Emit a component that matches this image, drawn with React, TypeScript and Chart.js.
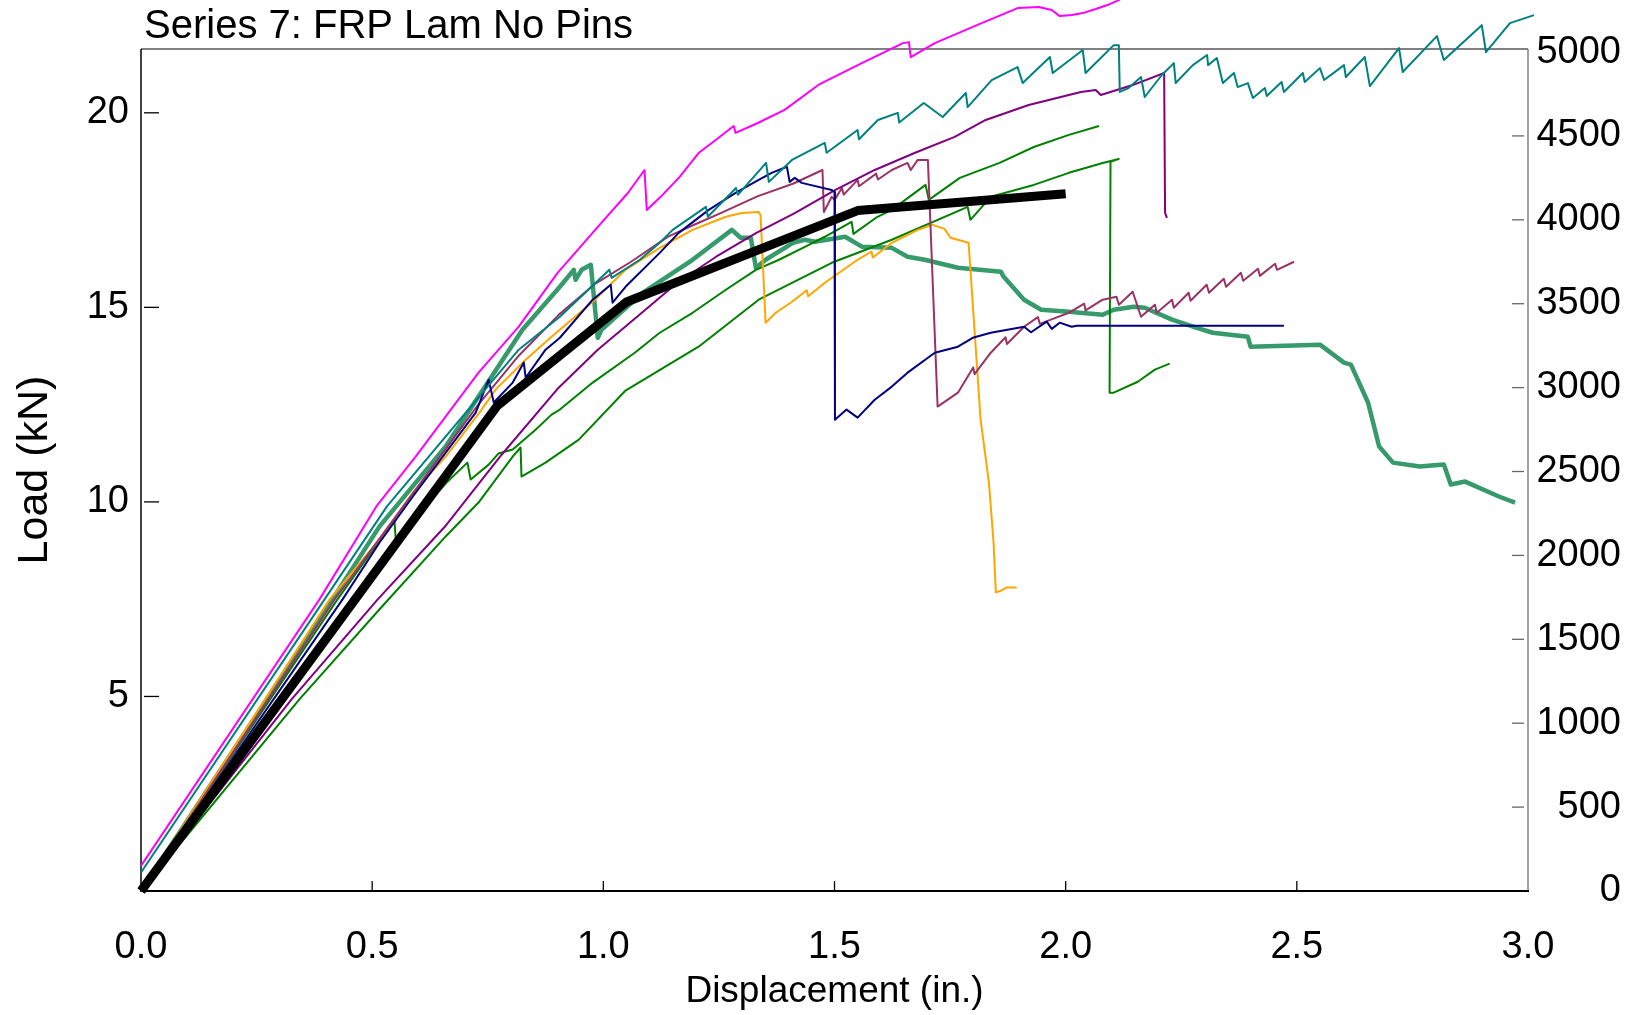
import React, { useEffect, useRef } from 'react';
import { Chart, registerables } from 'chart.js';

Chart.register(...registerables);

const FONT = "'Liberation Sans', Arial, Helvetica, sans-serif";

const chartTitle = 'Series 7: FRP Lam No Pins';
const xAxisTitle = 'Displacement (in.)';
const yAxisTitle = 'Load (kN)';
const kNTicks = [5, 10, 15, 20];
const lbfTicks = [0, 500, 1000, 1500, 2000, 2500, 3000, 3500, 4000, 4500, 5000];
const dispTicks = [0, 0.5, 1.0, 1.5, 2.0, 2.5, 3.0];

// [displacement (in.), load (lbf)]
const averagePts = [[0, 0], [0.77, 2890], [1.05, 3510], [1.55, 4055], [2.0, 4155]];

const magentaPts = [
  [0, 150], [0.386, 1738], [0.509, 2292], [0.594, 2589], [0.730, 3089], [0.817, 3363], [0.901, 3684],
  [0.988, 3958], [1.053, 4160], [1.089, 4297], [1.094, 4059], [1.124, 4137], [1.165, 4256], [1.206, 4398],
  [1.243, 4476], [1.282, 4559], [1.286, 4518], [1.334, 4577], [1.392, 4655], [1.468, 4809], [1.559, 4934],
  [1.648, 5053], [1.661, 5059], [1.665, 4970], [1.717, 5053], [1.808, 5160], [1.896, 5262], [1.942, 5268],
  [1.970, 5250], [1.987, 5214], [2.013, 5220], [2.037, 5232], [2.065, 5256], [2.095, 5285], [2.115, 5309],
  [2.14, 5400],
];

const tealPts = [
  [0, 110], [0.397, 1738], [0.532, 2292], [0.817, 3226], [0.906, 3422], [1.013, 3702], [1.018, 3654],
  [1.079, 3762], [1.122, 3863], [1.150, 3940], [1.222, 4077], [1.226, 4018], [1.287, 4190], [1.291, 4149],
  [1.352, 4339], [1.358, 4226], [1.408, 4357], [1.479, 4458], [1.483, 4400], [1.550, 4535], [1.553, 4480],
  [1.594, 4595], [1.637, 4637], [1.640, 4580], [1.693, 4696], [1.734, 4613], [1.784, 4756], [1.788, 4672],
  [1.840, 4833], [1.896, 4910], [1.907, 4815], [1.966, 4970], [1.972, 4875], [2.037, 5012], [2.043, 4875],
  [2.104, 5041], [2.115, 5041], [2.117, 4762], [2.136, 4785], [2.163, 4851], [2.171, 4732], [2.208, 4863],
  [2.234, 4934], [2.238, 4815], [2.275, 4922], [2.306, 4982], [2.308, 4922], [2.327, 4964], [2.340, 4815],
  [2.364, 4875], [2.372, 4791], [2.394, 4815], [2.405, 4726], [2.431, 4785], [2.435, 4738], [2.467, 4821],
  [2.472, 4762], [2.513, 4875], [2.517, 4821], [2.550, 4904], [2.559, 4833], [2.602, 4922], [2.606, 4851],
  [2.647, 4970], [2.658, 4797], [2.721, 5023], [2.729, 4881], [2.803, 5095], [2.818, 4952], [2.900, 5160],
  [2.909, 5000], [2.961, 5172], [3.013, 5220], [3.019, 5220], [3.024, 5143],
];

const navyPts = [
  [0, 0], [0.436, 1738], [0.516, 2077], [0.588, 2351], [0.659, 2613], [0.724, 2851], [0.752, 3047],
  [0.763, 2911], [0.804, 3030], [0.828, 3149], [0.832, 3059], [0.875, 3226], [0.906, 3297], [0.977, 3524],
  [1.016, 3613], [1.020, 3506], [1.048, 3601], [1.122, 3803], [1.163, 3922], [1.228, 4059], [1.286, 4161],
  [1.336, 4238], [1.364, 4280], [1.397, 4316], [1.403, 4226], [1.414, 4250], [1.429, 4220], [1.494, 4178],
  [1.500, 4166], [1.501, 2809], [1.526, 2869], [1.550, 2821], [1.587, 2928], [1.624, 3006], [1.658, 3089],
  [1.717, 3208], [1.767, 3244], [1.799, 3297], [1.838, 3327], [1.910, 3363], [1.925, 3330], [1.959, 3393],
  [1.970, 3350], [1.987, 3387], [2.013, 3363], [2.024, 3369], [2.472, 3369],
];

const purplePts = [
  [0, 0], [0.326, 1143], [0.512, 1738], [0.66, 2180], [0.78, 2600], [0.90, 2990], [0.988, 3226],
  [1.073, 3422], [1.160, 3625], [1.244, 3780], [1.331, 3922], [1.415, 4041], [1.502, 4178], [1.587, 4297],
  [1.673, 4398], [1.760, 4494], [1.827, 4595], [1.920, 4684], [2.033, 4762], [2.065, 4774], [2.076, 4744],
  [2.145, 4803], [2.213, 4875], [2.215, 4041], [2.219, 4012],
];

const maroonPts = [
  [0, 0], [0.419, 1738], [0.730, 2900], [0.817, 3190], [0.904, 3435], [0.983, 3620], [1.06, 3750],
  [1.14, 3900], [1.20, 3975], [1.254, 4040], [1.333, 4140], [1.41, 4215], [1.474, 4297], [1.477, 4047],
  [1.494, 4137], [1.500, 4119], [1.516, 4190], [1.520, 4150], [1.550, 4238], [1.553, 4200], [1.590, 4275],
  [1.594, 4240], [1.624, 4297], [1.658, 4339], [1.665, 4297], [1.680, 4357], [1.702, 4357], [1.723, 2887],
  [1.767, 2970], [1.80, 3120], [1.803, 3080], [1.838, 3208], [1.87, 3300], [1.873, 3260], [1.910, 3363],
  [1.94, 3420], [1.944, 3380], [1.968, 3405], [2.007, 3446], [2.04, 3500], [2.043, 3460], [2.080, 3524],
  [2.110, 3541], [2.115, 3494], [2.145, 3571], [2.163, 3422], [2.193, 3494], [2.197, 3446], [2.230, 3524],
  [2.234, 3476], [2.266, 3565], [2.270, 3518], [2.305, 3613], [2.310, 3565], [2.342, 3649], [2.347, 3601],
  [2.379, 3684], [2.384, 3637], [2.416, 3708], [2.420, 3666], [2.453, 3738], [2.457, 3702], [2.494, 3750],
];

const orangePts = [
  [0, 0], [0.408, 1738], [0.516, 2095], [0.588, 2375], [0.659, 2589], [0.732, 2851], [0.767, 2988],
  [0.832, 3166], [0.888, 3303], [0.977, 3512], [1.048, 3702], [1.122, 3833], [1.193, 3940], [1.265, 4018],
  [1.299, 4041], [1.336, 4047], [1.340, 4029], [1.351, 3387], [1.373, 3446], [1.408, 3512], [1.44, 3580],
  [1.443, 3545], [1.479, 3625], [1.550, 3762], [1.58, 3810], [1.583, 3775], [1.624, 3863], [1.680, 3940],
  [1.712, 3970], [1.738, 3946], [1.751, 3893], [1.790, 3863], [1.816, 2809], [1.834, 2434], [1.844, 2077],
  [1.849, 1780], [1.857, 1786], [1.873, 1809], [1.894, 1809],
];

const greenUpperPts = [
  [0, 0], [0.425, 1738], [0.548, 2214], [0.551, 2095], [0.661, 2434], [0.706, 2553], [0.713, 2452],
  [0.752, 2541], [0.773, 2607], [0.804, 2631], [0.854, 2750], [0.888, 2839], [0.906, 2869], [0.977, 3030],
  [1.068, 3208], [1.122, 3327], [1.193, 3446], [1.265, 3583], [1.330, 3702], [1.380, 3762], [1.436, 3839],
  [1.479, 3899], [1.537, 3988], [1.541, 3916], [1.593, 4018], [1.624, 4059], [1.697, 4208], [1.704, 4119],
  [1.771, 4250], [1.857, 4339], [1.931, 4434], [2.007, 4506], [2.072, 4559],
];

const greenLowerPts = [
  [0, 0], [0.343, 1143], [0.516, 1679], [0.659, 2113], [0.730, 2315], [0.804, 2589], [0.821, 2643],
  [0.823, 2470], [0.875, 2553], [0.947, 2690], [1.047, 2980], [1.206, 3244], [1.336, 3524], [1.494, 3744],
  [1.624, 3881], [1.788, 4077], [1.794, 4000], [1.838, 4137], [1.931, 4208], [2.007, 4280], [2.080, 4339],
  [2.115, 4363], [2.097, 4345], [2.095, 2970], [2.104, 2970], [2.156, 3035], [2.193, 3107], [2.225, 3143],
];

const seaGreenPts = [
  [0, 0], [0.414, 1738], [0.516, 2173], [0.659, 2649], [0.825, 3345], [0.906, 3601], [0.936, 3702],
  [0.940, 3643], [0.953, 3702], [0.973, 3732], [0.988, 3297], [0.996, 3345], [1.085, 3565], [1.193, 3762],
  [1.278, 3940], [1.297, 3893], [1.319, 3893], [1.330, 3714], [1.351, 3762], [1.410, 3863], [1.436, 3881],
  [1.457, 3869], [1.523, 3899], [1.560, 3839], [1.624, 3833], [1.658, 3780], [1.695, 3762], [1.767, 3714],
  [1.860, 3690], [1.866, 3660], [1.910, 3524], [1.947, 3464], [2.007, 3452], [2.080, 3434], [2.104, 3464],
  [2.147, 3482], [2.171, 3476], [2.230, 3405], [2.282, 3357], [2.318, 3327], [2.394, 3303], [2.400, 3244],
  [2.550, 3256], [2.602, 3149], [2.617, 3137], [2.654, 2911], [2.678, 2649], [2.708, 2553], [2.766, 2530],
  [2.818, 2542], [2.833, 2423], [2.864, 2440], [2.937, 2351], [2.972, 2315],
];

const seriesList = [
  { label: 'Average', pts: averagePts, color: '#000000', width: 9 },
  { label: 'Specimen 1', pts: magentaPts, color: '#FF00FF', width: 2 },
  { label: 'Specimen 2', pts: tealPts, color: '#008080', width: 2 },
  { label: 'Specimen 3', pts: navyPts, color: '#000080', width: 2 },
  { label: 'Specimen 4', pts: purplePts, color: '#800080', width: 2 },
  { label: 'Specimen 5', pts: maroonPts, color: '#993366', width: 2 },
  { label: 'Specimen 6', pts: orangePts, color: '#FFA500', width: 2 },
  { label: 'Specimen 7', pts: greenUpperPts, color: '#008000', width: 2 },
  { label: 'Specimen 8', pts: greenLowerPts, color: '#008000', width: 2 },
  { label: 'Specimen 9', pts: seaGreenPts, color: '#369a6c', width: 4.5 },
];

const setTicks = (values: number[]) => (scale: any) => {
  scale.ticks = values.map((value) => ({ value }));
};

const framePlugin = {
  id: 'frame',
  beforeDatasetsDraw(chart: any) {
    const { ctx, chartArea: a, scales } = chart;
    const seg = (x1: number, y1: number, x2: number, y2: number) => {
      ctx.beginPath();
      ctx.moveTo(x1, y1);
      ctx.lineTo(x2, y2);
      ctx.stroke();
    };
    ctx.save();
    ctx.strokeStyle = '#808080';
    ctx.lineWidth = 2;
    seg(a.left, a.top, a.right, a.top);
    ctx.lineWidth = 1.5;
    seg(a.right, a.top, a.right, a.bottom);
    ctx.strokeStyle = '#000000';
    seg(a.left, a.top, a.left, a.bottom + 1);
    ctx.lineWidth = 2;
    seg(a.left, a.bottom, a.right + 1, a.bottom);
    ctx.lineWidth = 1.3;
    kNTicks.forEach((v) => {
      const y = scales.y.getPixelForValue(v);
      seg(a.left + 3, y, a.left + 18, y);
    });
    dispTicks.slice(1, -1).forEach((v) => {
      const x = scales.x.getPixelForValue(v);
      seg(x, a.bottom, x, a.bottom - 10);
    });
    ctx.strokeStyle = '#666666';
    lbfTicks.slice(1, -1).forEach((v) => {
      const y = scales.y2.getPixelForValue(v);
      seg(a.right - 16, y, a.right - 4, y);
    });
    ctx.restore();
  },
  afterDraw(chart: any) {
    const { ctx } = chart;
    ctx.save();
    ctx.fillStyle = '#000000';
    ctx.font = `40px ${FONT}`;
    ctx.textAlign = 'left';
    ctx.textBaseline = 'alphabetic';
    ctx.fillText(chartTitle, 144, 38);
    ctx.restore();
  },
};

export default function App() {
  const canvasRef = useRef<HTMLCanvasElement | null>(null);

  useEffect(() => {
    document.body.style.margin = '0';
    const canvas = canvasRef.current;
    if (!canvas) return;
    const chart = new Chart(canvas, {
      type: 'line',
      data: {
        datasets: seriesList.map((s) => ({
          label: s.label,
          data: s.pts.map(([x, y]) => ({ x, y })),
          borderColor: s.color,
          backgroundColor: s.color,
          borderWidth: s.width,
          pointRadius: 0,
          pointHoverRadius: 0,
          fill: false,
          tension: 0,
          clip: false,
          yAxisID: 'y2',
          borderJoinStyle: 'round',
        })),
      },
      options: {
        animation: false,
        responsive: false,
        devicePixelRatio: 1,
        events: [],
        layout: { padding: { top: 49, left: 0, right: 17, bottom: 0 } },
        plugins: {
          legend: { display: false },
          tooltip: { enabled: false },
          title: { display: false },
        },
        scales: {
          x: {
            type: 'linear',
            position: 'bottom',
            min: 0,
            max: 3,
            grid: { display: false, drawTicks: false, tickLength: 0 },
            border: { display: false },
            afterBuildTicks: setTicks(dispTicks),
            ticks: {
              padding: 34,
              color: '#000000',
              font: { family: FONT, size: 38 },
              maxRotation: 0,
              autoSkip: false,
              callback: (v: any) => Number(v).toFixed(1),
            },
            title: {
              display: true,
              text: xAxisTitle,
              color: '#000000',
              font: { family: FONT, size: 37 },
              padding: { top: 0, bottom: 1 },
            },
            afterFit: (s: any) => { s.height = 124; },
          },
          y: {
            type: 'linear',
            position: 'left',
            min: 0,
            max: 21.64,
            grid: { display: false, drawTicks: false, tickLength: 0 },
            border: { display: false },
            afterBuildTicks: setTicks([0, ...kNTicks]),
            ticks: {
              padding: 12,
              color: '#000000',
              font: { family: FONT, size: 38 },
              autoSkip: false,
              callback: (v: any) => (Number(v) === 0 ? '' : String(v)),
            },
            title: {
              display: true,
              text: yAxisTitle,
              color: '#000000',
              font: { family: FONT, size: 43 },
              padding: { top: 9, bottom: 0 },
            },
            afterFit: (s: any) => { s.width = 141; },
          },
          y2: {
            type: 'linear',
            position: 'right',
            min: 0,
            max: 5018,
            grid: { display: false, drawTicks: false, tickLength: 0 },
            border: { display: false },
            afterBuildTicks: setTicks(lbfTicks),
            ticks: {
              padding: 11,
              crossAlign: 'far',
              color: '#000000',
              font: { family: FONT, size: 38 },
              autoSkip: false,
              callback: (v: any) => String(v),
            },
            afterFit: (s: any) => { s.width = 93; },
          },
        },
      } as any,
      plugins: [framePlugin],
    });
    return () => chart.destroy();
  }, []);

  return (
    <canvas
      ref={canvasRef}
      width={1638}
      height={1015}
      style={{ display: 'block', width: '1638px', height: '1015px' }}
    />
  );
}
